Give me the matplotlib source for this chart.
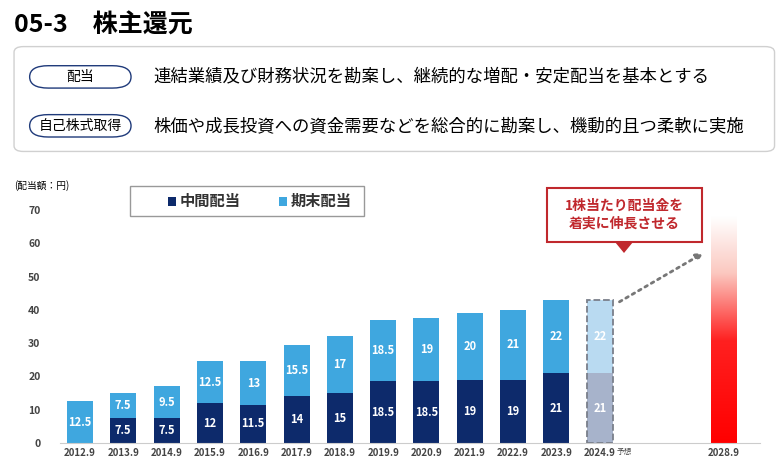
import numpy as np
import matplotlib.pyplot as plt
from matplotlib.patches import FancyBboxPatch, Rectangle, Polygon
from matplotlib.colors import LinearSegmentedColormap

plt.rcParams['font.family'] = ['Noto Sans CJK JP', 'DejaVu Sans']

years = ['2012.9', '2013.9', '2014.9', '2015.9', '2016.9', '2017.9', '2018.9',
         '2019.9', '2020.9', '2021.9', '2022.9', '2023.9', '2024.9']
interim = [0, 7.5, 7.5, 12, 11.5, 14, 15, 18.5, 18.5, 19, 19, 21, 21]
final = [12.5, 7.5, 9.5, 12.5, 13, 15.5, 17, 18.5, 19, 20, 21, 22, 22]
target_label = '2028.9'
target_height = 68

dark = '#0d2a6b'
light = '#3fa7df'

fig = plt.figure(figsize=(7.8, 4.66), dpi=100)

# header
fig.text(0.018, 0.945, '05-3　株主還元', fontsize=18, fontweight='bold', va='center')
fig.patches.append(FancyBboxPatch((0.018, 0.675), 0.975, 0.225, boxstyle='round,pad=0,rounding_size=0.012',
                                  transform=fig.transFigure, fc='white', ec='#d0d0d0', lw=1))
rows = [('配当', '連結業績及び財務状況を勘案し、継続的な増配・安定配当を基本とする', 0.835),
        ('自己株式取得', '株価や成長投資への資金需要などを総合的に勘案し、機動的且つ柔軟に実施', 0.73)]
for tag, txt, y in rows:
    fig.patches.append(FancyBboxPatch((0.038, y - 0.024), 0.13, 0.048, boxstyle='round,pad=0,rounding_size=0.024',
                                      transform=fig.transFigure, fc='white', ec='#1f3a7a', lw=1))
    fig.text(0.103, y, tag, fontsize=10, ha='center', va='center')
    fig.text(0.197, y, txt, fontsize=12.5, va='center')

ax = fig.add_axes([60 / 780, 1 - 443 / 466, 700 / 780, 233 / 466])
x = np.arange(len(years))
w = 0.6
for i in x:
    last = i == len(years) - 1
    c1 = '#a7b3cb' if last else dark
    c2 = '#b9daf1' if last else light
    if interim[i]:
        ax.bar(i, interim[i], w, color=c1, zorder=2)
        ax.text(i, interim[i] / 2, f'{interim[i]:g}', ha='center', va='center', color='white',
                fontsize=8, fontweight='bold', zorder=3)
    ax.bar(i, final[i], w, bottom=interim[i], color=c2, zorder=2)
    ax.text(i, interim[i] + final[i] / 2, f'{final[i]:g}', ha='center', va='center', color='white',
            fontsize=8, fontweight='bold', zorder=3)
    if last:
        ax.add_patch(Rectangle((i - w / 2, 0), w, interim[i] + final[i], fill=False, ec='#7a7f8a',
                               ls='--', lw=1.3, zorder=4))

xt = 14.87
cmap = LinearSegmentedColormap.from_list('rg', [(0, '#ff0000'), (0.45, '#ff2020'), (0.75, '#fbc8c0'), (1, '#ffffff')])
grad = np.linspace(0, 1, 256).reshape(-1, 1)
ax.imshow(grad, cmap=cmap, origin='lower', extent=(xt - 0.3, xt + 0.3, 0, target_height), aspect='auto', zorder=2)

ax.annotate('', xy=(14.45, 57.5), xytext=(12.4, 42),
            arrowprops=dict(arrowstyle='-|>', ls=':', lw=2, color='#777777'))

ax.set_xticks(list(x) + [xt])
ax.set_xticklabels(years + [target_label], fontsize=7, fontweight='bold', color='#444444')
ax.text(12.4, -2.6, '予想', fontsize=5.5, color='#444444', va='center')
ax.set_xlim(-0.46, 15.7)
ax.set_ylim(0, 70)
ax.set_yticks(range(0, 71, 10))
ax.tick_params(axis='y', labelsize=7.5, length=0, labelcolor='#444444', pad=14)
ax.tick_params(axis='x', length=0)
for s in ['top', 'right', 'left']:
    ax.spines[s].set_visible(False)
ax.spines['bottom'].set_color('#cccccc')
ax.set_yticklabels([str(v) for v in range(0, 71, 10)], fontweight='bold')

fig.text(0.018, 0.595, '(配当額：円)', fontsize=7)

# legend box
fig.patches.append(Rectangle((130 / 780, 1 - 216 / 466), 234 / 780, 30 / 466, transform=fig.transFigure,
                             fc='white', ec='#999999', lw=1))
fig.patches.append(Rectangle((168 / 780, 1 - 206 / 466), 8 / 780, 9 / 466, transform=fig.transFigure, fc=dark))
fig.text(180 / 780, 1 - 201 / 466, '中間配当', fontsize=11, fontweight='bold', va='center', color='#333333')
fig.patches.append(Rectangle((279 / 780, 1 - 206 / 466), 8 / 780, 9 / 466, transform=fig.transFigure, fc=light))
fig.text(291 / 780, 1 - 201 / 466, '期末配当', fontsize=11, fontweight='bold', va='center', color='#333333')

# callout
fig.patches.append(Rectangle((547 / 780, 1 - 242 / 466), 155 / 780, 54 / 466, transform=fig.transFigure,
                             fc='white', ec='#c0282d', lw=1.5))
fig.patches.append(Polygon([(615 / 780, 1 - 242 / 466), (633 / 780, 1 - 242 / 466), (624 / 780, 1 - 253 / 466)],
                           closed=True, transform=fig.transFigure, fc='#c0282d'))
fig.text(624 / 780, 1 - 215 / 466, '1株当たり配当金を\n着実に伸長させる', fontsize=10, fontweight='bold',
         color='#c0282d', ha='center', va='center', linespacing=1.3)

fig.savefig('out.png', dpi=100)
